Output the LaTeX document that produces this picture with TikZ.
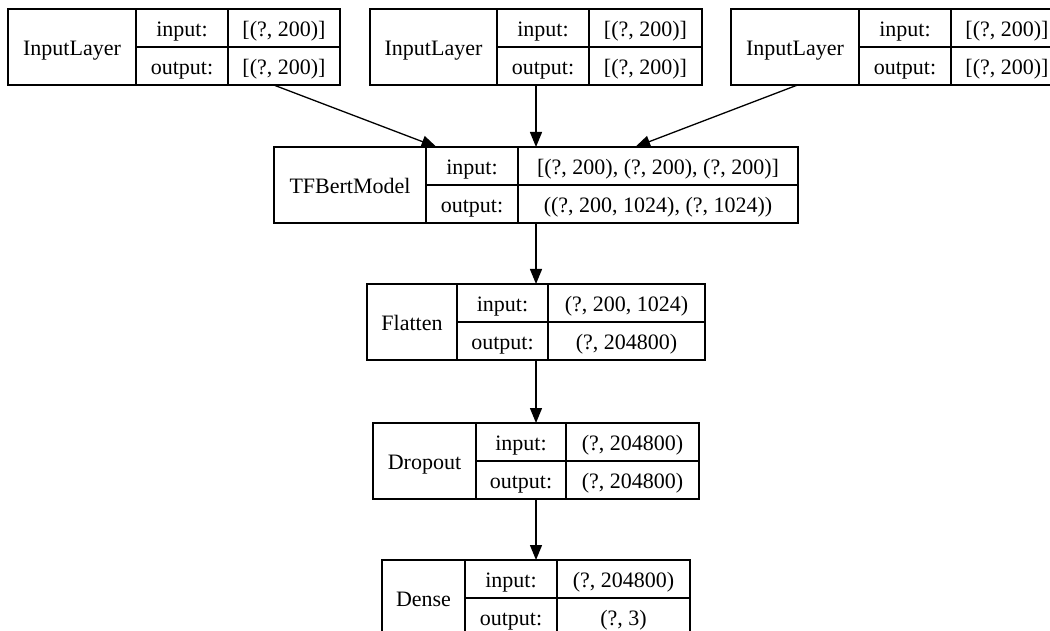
\documentclass[tikz,border=0pt]{standalone}
\usepackage{fontspec}
\setmainfont{Liberation Serif}
\usetikzlibrary{arrows.meta}
\tikzset{
  recbox/.style={draw=black, line width=1.3pt, outer sep=0pt, inner sep=0pt, anchor=north west, minimum height=76pt},
  divline/.style={draw=black, line width=1.3pt},
  txt/.style={inner sep=0pt, text height=17pt, text depth=0pt, font=\fontsize{22pt}{24pt}\selectfont},
  arr/.style={draw=black, line width=1.3pt, -{Triangle[length=15pt,width=12pt]}, shorten >=0pt}
}
% #1 name, #2 left, #3 right, #4 top, #5 divider1, #6 divider2, #7 label, #8 input value, #9 output value
\newcommand{\kerasrec}[9]{%
  \node[recbox, minimum width={(#3-#2)*1pt}] (#1) at (#2,#4) {};
  \draw[divline] (#5,#4) -- (#5,{#4+76});
  \draw[divline] (#6,#4) -- (#6,{#4+76});
  \draw[divline] (#5,{#4+38}) -- (#3,{#4+38});
  \node[txt] (#1-l) at ({(#2+#5)/2},{#4+38}) {#7};
  \node[txt] (#1-i) at ({(#5+#6)/2},{#4+19}) {input:};
  \node[txt] (#1-iv) at ({(#6+#3)/2},{#4+19}) {#8};
  \node[txt] (#1-o) at ({(#5+#6)/2},{#4+57}) {output:};
  \node[txt] (#1-ov) at ({(#6+#3)/2},{#4+57}) {#9};
}
\begin{document}
\begin{tikzpicture}[x=1pt, y=-1pt]
  \useasboundingbox (0,0) rectangle (1050,631);
  \clip (0,0) rectangle (1050,631);
  \kerasrec{inA}{8}{340}{9}{136}{228}{InputLayer}{[(?, 200)]}{[(?, 200)]}
  \kerasrec{inB}{370}{702}{9}{497}{589}{InputLayer}{[(?, 200)]}{[(?, 200)]}
  \kerasrec{inC}{731}{1063}{9}{859}{951}{InputLayer}{[(?, 200)]}{[(?, 200)]}
  \kerasrec{bert}{274}{798}{147}{426}{518}{TFBertModel}{[(?, 200), (?, 200), (?, 200)]}{((?, 200, 1024), (?, 1024))}
  \kerasrec{flat}{367}{705}{284}{457}{548}{Flatten}{(?, 200, 1024)}{(?, 204800)}
  \kerasrec{drop}{373}{699}{423}{476}{566}{Dropout}{(?, 204800)}{(?, 204800)}
  \kerasrec{dense}{382}{690}{560}{465}{557}{Dense}{(?, 204800)}{(?, 3)}
  \draw[arr] (inA) -- (bert);
  \draw[arr] (inB) -- (bert);
  \draw[arr] (inC) -- (bert);
  \draw[arr] (bert) -- (flat);
  \draw[arr] (flat) -- (drop);
  \draw[arr] (drop) -- (dense);
\end{tikzpicture}
\end{document}
